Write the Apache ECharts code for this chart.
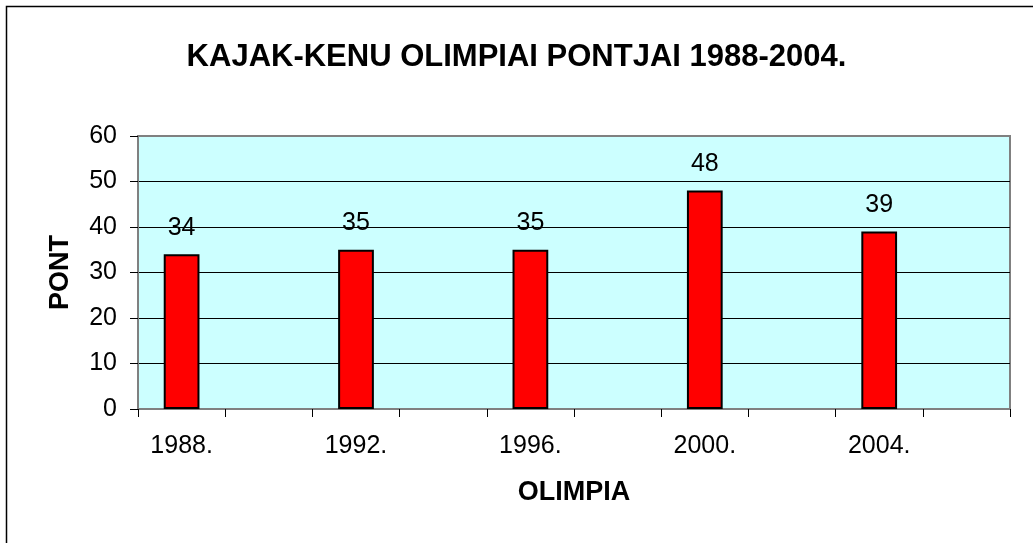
<!DOCTYPE html>
<html>
<head>
<meta charset="utf-8">
<script src="https://cdn.jsdelivr.net/npm/echarts@6/dist/echarts.min.js"></script>
<style>
html,body{margin:0;padding:0;background:#fff;}
#chart{width:1033px;height:543px;}
</style>
</head>
<body>
<div id="chart"></div>
<script>
// Data
const years = ['1988.', '1992.', '1996.', '2000.', '2004.'];
const points = [34, 35, 35, 48, 39];
const yTicks = [0, 10, 20, 30, 40, 50, 60];

// Each Olympic year is followed by an empty slot on the category axis
const categories = [];
const values = [];
years.forEach((y, i) => {
  categories.push(y, '');
  values.push(points[i], '-');
});

const FONT = '"Liberation Sans", Arial, sans-serif';
const chart = echarts.init(document.getElementById('chart'));
chart.setOption({
  animation: false,
  backgroundColor: '#fff',
  title: {
    text: 'KAJAK-KENU OLIMPIAI PONTJAI 1988-2004.',
    left: 'center',
    top: 37,
    textStyle: { fontFamily: FONT, fontSize: 31, fontWeight: 'bold', color: '#000' }
  },
  graphic: [{
    type: 'polyline',
    shape: { points: [[6.5, 543], [6.5, 6.5], [1033, 6.5]] },
    style: { stroke: '#000', lineWidth: 1.5, fill: null },
    z: 100
  }],
  grid: {
    left: 138, right: 23, top: 136, bottom: 134,
    show: true,
    backgroundColor: '#CCFFFF',
    borderColor: '#808080',
    borderWidth: 2
  },
  xAxis: {
    type: 'category',
    data: categories,
    boundaryGap: true,
    name: 'OLIMPIA',
    nameLocation: 'middle',
    nameGap: 70,
    nameTextStyle: { fontFamily: FONT, fontSize: 27, fontWeight: 'bold', color: '#000' },
    axisLine: { lineStyle: { color: '#808080', width: 2 } },
    axisTick: { show: true, interval: 0, length: 8, lineStyle: { color: '#000', width: 1 } },
    axisLabel: { interval: 0, margin: 25, fontFamily: FONT, fontSize: 25, color: '#000' },
    splitLine: { show: false }
  },
  yAxis: {
    type: 'value',
    min: yTicks[0],
    max: yTicks[yTicks.length - 1],
    interval: 10,
    name: 'PONT',
    nameLocation: 'middle',
    nameGap: 64,
    nameTextStyle: { fontFamily: FONT, fontSize: 27, fontWeight: 'bold', color: '#000' },
    axisLine: { show: true, lineStyle: { color: '#808080', width: 2 } },
    axisTick: { show: true, length: 8, lineStyle: { color: '#000', width: 1 } },
    axisLabel: { margin: 21, fontFamily: FONT, fontSize: 25, color: '#000' },
    splitLine: { show: true, showMinLine: false, showMaxLine: false, lineStyle: { color: '#000', width: 1 } }
  },
  series: [{
    type: 'bar',
    data: values,
    barWidth: '41%',
    itemStyle: { color: '#FF0000', borderColor: '#000', borderWidth: 2 },
    label: {
      show: true,
      position: 'top',
      distance: 14,
      fontFamily: FONT,
      fontSize: 25,
      color: '#000'
    }
  }]
});
</script>
</body>
</html>
